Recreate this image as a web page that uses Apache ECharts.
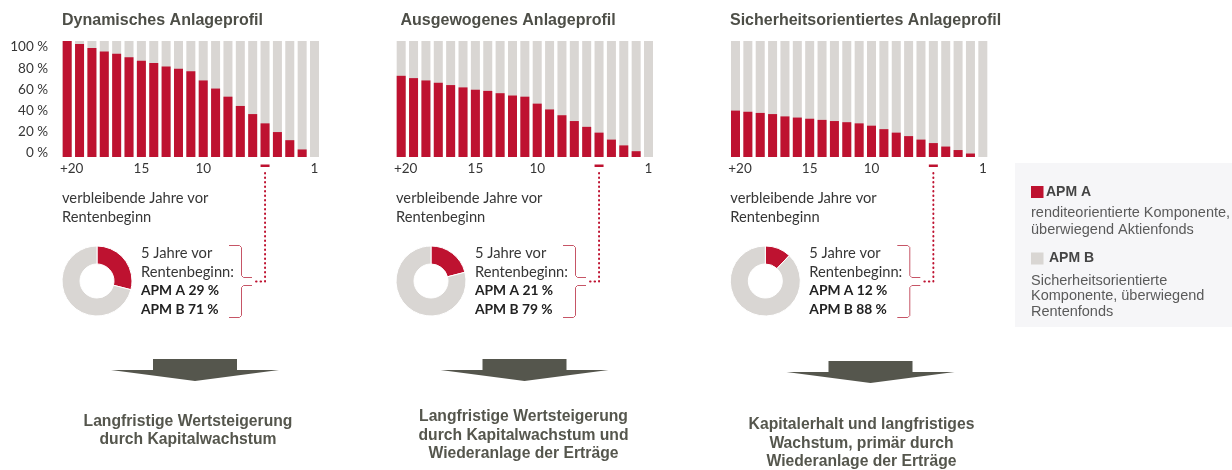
<!DOCTYPE html>
<html>
<head>
<meta charset="utf-8">
<title>Anlageprofile</title>
<script src="https://cdn.jsdelivr.net/npm/echarts@6/dist/echarts.min.js"></script>
<style>
  html, body { margin: 0; padding: 0; background: #fff; }
  #main { width: 1232px; height: 470px; }
</style>
</head>
<body>
<div id="main"></div>
<script>
// --- Daten ---
var jahre = ['+20', '20', '19', '18', '17', '16', '15', '14', '13', '12', '11',
             '10', '9', '8', '7', '6', '5', '4', '3', '2', '1'];
var beschriftung = ['+20', '15', '10', '1'];
var markJahr = '5';
var yTicks = [0, 20, 40, 60, 80, 100];

// Anteil APM A je Restlaufzeit (%)
var dynamisch  = [100, 97.4, 94, 91, 89, 86, 83, 81, 78, 76, 74, 66, 59, 52, 44, 37, 29, 21.5, 14.5, 6.5, 0];
var ausgewogen = [70, 68, 66, 64, 62, 60, 58, 57, 55, 53, 52, 46, 41, 36, 31, 26, 21, 15, 10, 5, 0];
var sicher     = [40, 39, 38, 37, 35, 34, 33, 32, 31, 30, 29, 27, 24, 21, 18, 15, 12, 9, 6, 3, 0];

var titel = ['Dynamisches Anlageprofil', 'Ausgewogenes Anlageprofil', 'Sicherheitsorientiertes Anlageprofil'];
var apmA = [29, 21, 12];
var apmB = [71, 79, 88];
var ziele = [
  ['Langfristige Wertsteigerung', 'durch Kapitalwachstum'],
  ['Langfristige Wertsteigerung', 'durch Kapitalwachstum und', 'Wiederanlage der Erträge'],
  ['Kapitalerhalt und langfristiges', 'Wachstum, primär durch', 'Wiederanlage der Erträge']
];

var ROT = '#be1230', GRAU = '#d9d6d3', DUNKEL = '#55564d', TEXT = '#363636';
var LATO = 'Lato, "Open Sans", sans-serif';
var ARIAL = '"Liberation Sans", Arial, sans-serif';

var reihen = [dynamisch, ausgewogen, sicher];
var dx = [0, 334, 668.3];          // Versatz der drei Spalten
var titelX = [62, 400.5, 730];
var pfeilX = [195, 524.5, 870.5], pfeilY = [359, 359, 361];
var zielX = [188, 523.5, 861.5], zielY = [421.5, 417, 425];

var chart = echarts.init(document.getElementById('main'), null, {renderer: 'canvas'});

var grids = [], xAxes = [], yAxes = [], series = [];
reihen.forEach(function (daten, k) {
  grids.push({left: 61 + dx[k], top: 41, width: 259.7, height: 116});
  xAxes.push({
    type: 'category', gridIndex: k, data: jahre,
    axisLine: {show: false}, axisTick: {show: false},
    axisLabel: {
      margin: 5, fontFamily: LATO, fontSize: 13.5, color: TEXT,
      interval: function (i, v) { return beschriftung.indexOf(v) >= 0; },
      formatter: function (v) { return v === '+20' ? '{p|+20}' : v; },
      rich: {p: {padding: [0, 0, 0, 9], fontFamily: LATO, fontSize: 13.5, color: TEXT}}
    }
  });
  yAxes.push({type: 'value', gridIndex: k, min: 0, max: 100, show: false});
  series.push({
    type: 'bar', xAxisIndex: k, yAxisIndex: k, data: daten, barWidth: 9,
    itemStyle: {color: ROT},
    showBackground: true, backgroundStyle: {color: GRAU},
    silent: true
  });
  series.push({
    type: 'pie', center: [97 + dx[k], 281], radius: [17, 35],
    startAngle: 90, clockwise: true, silent: true,
    label: {show: false}, labelLine: {show: false},
    itemStyle: {borderColor: '#fff', borderWidth: 1},
    data: [
      {name: 'APM A', value: apmA[k], itemStyle: {color: ROT}},
      {name: 'APM B', value: apmB[k], itemStyle: {color: GRAU}}
    ]
  });
});

// Prozent-Skala links
grids.push({left: 55, top: 47, width: 1, height: 106});
xAxes.push({type: 'category', gridIndex: 3, data: [], show: false});
yAxes.push({
  type: 'value', gridIndex: 3, min: yTicks[0], max: yTicks[yTicks.length - 1], interval: 20,
  axisLine: {show: false}, axisTick: {show: false}, splitLine: {show: false},
  axisLabel: {margin: 7, fontFamily: LATO, fontSize: 13.5, color: TEXT, formatter: '{value} %'}
});

chart.setOption({
  animation: false,
  grid: grids, xAxis: xAxes, yAxis: yAxes, series: series
});

// --- Beschriftungen, Klammern, Pfeile ---
var g = [];
reihen.forEach(function (daten, k) {
  var o = dx[k];
  var mx = chart.convertToPixel({xAxisIndex: k}, markJahr);

  g.push({type: 'text', x: titelX[k], y: 21, style: {
    text: titel[k], font: 'bold 16px ' + ARIAL, fill: '#4d4e47', verticalAlign: 'middle'}});
  g.push({type: 'text', x: 62 + o, y: 189, style: {
    text: 'verbleibende Jahre vor\nRentenbeginn', font: '14.7px ' + LATO, fill: TEXT,
    lineHeight: 19, verticalAlign: 'top'}});
  g.push({type: 'text', x: 141 + o, y: 243.5, style: {
    rich: {b: {font: 'bold 13.8px ' + LATO, fill: '#222'}},
    text: '5 Jahre vor\nRentenbeginn:\n{b|APM A ' + apmA[k] + ' %}\n{b|APM B ' + apmB[k] + ' %}',
    font: '14.7px ' + LATO, fill: TEXT, lineHeight: 19, verticalAlign: 'top'}});

  // Klammern
  g.push({type: 'polyline', x: o, shape: {points: [[229, 245.5], [239.5, 245.5], [241.5, 247.5],
    [241.5, 275.5], [243.5, 277.5], [252, 277.5]]},
    style: {stroke: '#c65566', fill: null, lineWidth: 1}});
  g.push({type: 'polyline', x: o, shape: {points: [[252, 285.5], [243.5, 285.5], [241.5, 287.5],
    [241.5, 315.5], [239.5, 317.5], [229, 317.5]]},
    style: {stroke: '#c65566', fill: null, lineWidth: 1}});

  // Markierung 5 Jahre + gepunktete Linie
  g.push({type: 'rect', shape: {x: mx - 4.5, y: 164.5, width: 9, height: 2.5}, style: {fill: ROT}});
  g.push({type: 'polyline', shape: {points: [[mx, 173], [mx, 281.5], [255 + o, 281.5]]},
    style: {stroke: ROT, lineWidth: 2, lineDash: [0.5, 4], lineCap: 'round', fill: null}});

  // Pfeil
  var cx = pfeilX[k], ty = pfeilY[k];
  g.push({type: 'rect', shape: {x: cx - 42, y: ty, width: 84, height: 11.5}, style: {fill: DUNKEL}});
  g.push({type: 'polygon', shape: {points: [[cx - 84, ty + 11], [cx + 84, ty + 11], [cx, ty + 22]]},
    style: {fill: DUNKEL}});

  g.push({type: 'text', x: zielX[k], y: zielY[k] - 9.25, style: {
    text: ziele[k].join('\n'), font: 'bold 15.7px ' + ARIAL, fill: DUNKEL,
    align: 'center', verticalAlign: 'top', lineHeight: 18.5}});
});

// Legende
g.push({type: 'rect', shape: {x: 1015, y: 163, width: 217, height: 164}, style: {fill: '#f6f6f8'}});
g.push({type: 'rect', shape: {x: 1031, y: 186, width: 12.5, height: 12}, style: {fill: ROT}});
g.push({type: 'text', x: 1046, y: 192, style: {text: 'APM A', font: 'bold 14px ' + ARIAL,
  fill: '#444', verticalAlign: 'middle'}});
g.push({type: 'text', x: 1031, y: 205, style: {text: 'renditeorientierte Komponente,\nüberwiegend Aktienfonds',
  font: '14.5px ' + ARIAL, fill: '#5a5a5a', lineHeight: 16.5, verticalAlign: 'top'}});
g.push({type: 'rect', shape: {x: 1031, y: 252.5, width: 12.5, height: 12}, style: {fill: GRAU}});
g.push({type: 'text', x: 1049, y: 258.5, style: {text: 'APM B', font: 'bold 14px ' + ARIAL,
  fill: '#444', verticalAlign: 'middle'}});
g.push({type: 'text', x: 1031, y: 273.5, style: {text: 'Sicherheitsorientierte\nKomponente, überwiegend\nRentenfonds',
  font: '14.5px ' + ARIAL, fill: '#5a5a5a', lineHeight: 15.2, verticalAlign: 'top'}});

chart.setOption({graphic: g});
</script>
</body>
</html>
